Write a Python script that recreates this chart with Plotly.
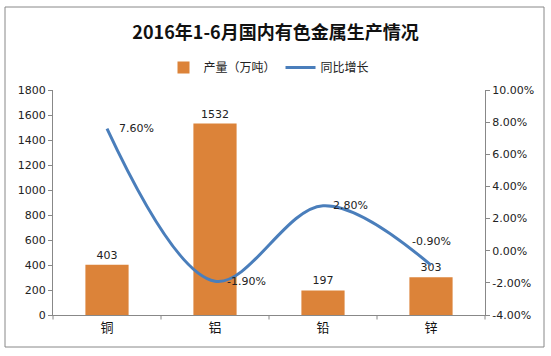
import plotly.graph_objects as go

categories = ["铜", "铝", "铅", "锌"]
output_vals = [403, 1532, 197, 303]
growth_pct = [7.60, -1.90, 2.80, -0.90]
left_ticks = list(range(0, 1801, 200))
right_ticks = [-4, -2, 0, 2, 4, 6, 8, 10]

CJK = "Noto Sans CJK SC"
NUM = "DejaVu Sans"

fig = go.Figure()
fig.add_trace(go.Bar(
    x=categories, y=output_vals, name="产量（万吨）",
    marker=dict(color="#DC8339", line=dict(width=0)),
    width=0.4,
    text=[str(v) for v in output_vals], textposition="outside",
    textfont=dict(family=NUM, size=11, color="#222"),
    cliponaxis=False,
))
fig.add_trace(go.Scatter(
    x=categories, y=growth_pct, name="同比增长", yaxis="y2",
    mode="lines",
    line=dict(color="#4A7EBB", width=3, shape="spline", smoothing=1.0),
    cliponaxis=False,
))

# line data labels (right of point, last one above)
label_pos = [("left", "middle", 10, 0), ("left", "middle", 10, 0),
             ("left", "middle", 8, 0), ("center", "middle", 0, 24)]
for c, v, (xa, ya, xs, ys) in zip(categories, growth_pct, label_pos):
    fig.add_annotation(x=c, y=v, xref="x", yref="y2", text=f"{v:.2f}%",
                       showarrow=False, xanchor=xa, yanchor=ya, xshift=xs, yshift=ys,
                       font=dict(family=NUM, size=11, color="#222"))

fig.update_layout(
    width=551, height=356,
    margin=dict(l=53, r=66, t=90, b=41),
    paper_bgcolor="white", plot_bgcolor="white",
    title=dict(text="<b>2016年1-6月国内有色金属生产情况</b>",
               font=dict(family=CJK, size=18, color="#111"),
               x=0.5, xanchor="center", y=0.907, yanchor="middle"),
    legend=dict(orientation="h", x=0.5, xanchor="center", y=1.1, yanchor="middle",
                font=dict(family=CJK, size=12, color="#222"),
                bgcolor="rgba(0,0,0,0)", traceorder="normal"),
    bargap=0.6,
    showlegend=True,
    xaxis=dict(showline=True, linecolor="#888", linewidth=1,
               ticks="", showgrid=False,
               tickfont=dict(family=CJK, size=13, color="#111")),
    yaxis=dict(range=[0, 1800], tickvals=left_ticks, showline=True,
               linecolor="#888", linewidth=1, ticks="outside", ticklen=4,
               tickcolor="#888", showgrid=False, zeroline=False,
               tickfont=dict(family=NUM, size=11, color="#222")),
    yaxis2=dict(range=[-4, 10], tickvals=right_ticks,
                ticktext=[f"{v:.2f}%" for v in right_ticks],
                overlaying="y", side="right", showline=True,
                linecolor="#888", linewidth=1, ticks="outside", ticklen=4,
                tickcolor="#888", showgrid=False, zeroline=False,
                tickfont=dict(family=NUM, size=11, color="#222")),
)

# category boundary tick marks on x axis
for i in range(len(categories) + 1):
    fig.add_shape(type="line", xref="paper", yref="paper",
                  x0=i / len(categories), x1=i / len(categories), y0=0, y1=-0.02,
                  line=dict(color="#888", width=1))

# outer chart border
fig.add_shape(type="rect", xref="paper", yref="paper",
              x0=(5 - 53) / 432, x1=(544 - 53) / 432,
              y0=(315 - 347) / 225, y1=(315 - 7) / 225,
              line=dict(color="#888", width=1), fillcolor="rgba(0,0,0,0)", layer="below")

fig.write_html("out.html", config={"displayModeBar": False},
               post_script="document.body.style.margin='0';document.body.style.overflow='hidden';")
